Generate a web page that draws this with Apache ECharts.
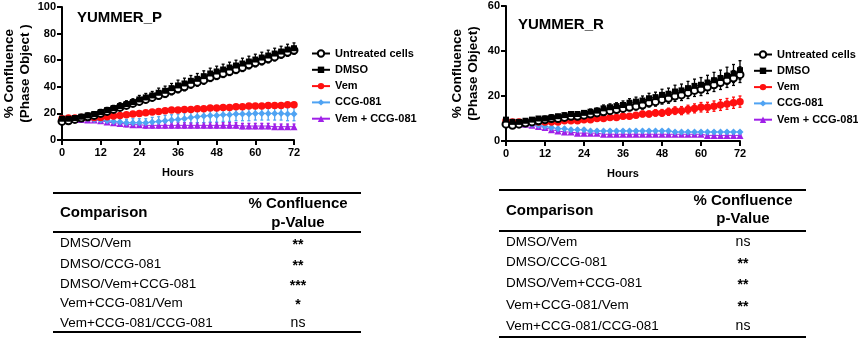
<!DOCTYPE html>
<html>
<head>
<meta charset="utf-8">
<script src="https://cdn.jsdelivr.net/npm/echarts@6/dist/echarts.min.js"></script>
<style>
  html, body { margin: 0; padding: 0; background: #fff; }
  #main { width: 858px; height: 338px; }
</style>
</head>
<body>
<div id="main"></div>
<script>
var chart = echarts.init(document.getElementById('main'));

// time points (hours)
var hours = [0,2,4,6,8,10,12,14,16,18,20,22,24,26,28,30,32,34,36,38,40,42,44,46,48,50,52,54,56,58,60,62,64,66,68,70,72];
var names = ['Untreated cells', 'DMSO', 'Vem', 'CCG-081', 'Vem + CCG-081'];

// YUMMER_P means
var pUntreated = [14,14.5,15.5,16.5,17.5,18.5,20,21.5,23,24.5,26,27.5,29,30.5,32,33.5,35,37,38.5,40,42,43.5,45,47,48.5,50,51.5,53,54.5,56.5,58,59.5,61,62.5,64.5,66,67.5];
var pDmso      = [16,16,16.5,17.5,18.5,19.5,21,22.5,24,25.5,27,28.5,30.5,32,33.5,35.5,37,39,41,42.5,44.5,46,48,50,51.5,53,54.5,56,57.5,59,60.5,62,63.5,65,66.5,68,69];
var pVem       = [16,16.5,16.5,17,17,17,17,17.5,18,18.5,19,19.5,20,20.5,21,21.5,22,22.5,22.5,23,23,23.5,23.5,24,24,24.5,24.5,25,25,25.5,25.5,25.5,26,26,26,26.5,26.5];
var pCcg       = [16,16,16,16,16,15.5,15,14.5,14,13.5,13,13,13,13,13.5,14,14.5,15,15.5,16,17,17.5,18,18.5,18.5,19,19,19.5,19.5,19.5,20,20,20,20,20,19.5,19.5];
var pCombo     = [16,16,15.5,15.5,15,15,14.5,13.5,13,12.5,12,11.5,11.5,11,11,11,11,11,11,11,11,11,11,11,11,11,11,11,10.5,10.5,10.5,10.5,10.5,10,10,10,10];
// YUMMER_P error (SEM)
var pUntreatedErr = [1,1,1,1,1,1.5,1.5,1.5,2,2,2,2,2.5,2.5,2.5,2.5,3,3,3,3,3,3,3,3,3,3,3,3,3,3,3,3,3,3,3,3,3];
var pDmsoErr      = [1,1,1,1,1.5,1.5,2,2,2,2.5,2.5,2.5,3,3,3,3.5,3.5,3.5,4,4,4,4,4,4,4,4,4,4,4,4,4,4,4,4,4,4,4];
var pVemErr       = [1,1,1,1,1,1,1,1,1,1,1,1,1,1,1,1,1,1,1,1,1,1,1,1,1,1,1,1,1,1,1,1,1,1,1,1,1];
var pCcgErr       = [1,1,1,1,1.5,1.5,2,2,2,2.5,2.5,3,3,3,3.5,3.5,4,4,4,4.5,4.5,4.5,5,5,5,5,5,5,5,5,5,5,5,5,5,5,5];
var pComboErr     = [1,1,1,1,1,1,1.5,1.5,1.5,1.5,2,2,2,2,2,2,2,2,2,2,2,2,2,2,2,2,2,2,2,2,2,2,2,2,2,2,2];

// YUMMER_R means
var rUntreated = [7.5,7,7.5,8,8.5,9,9.5,10,10,10.5,11,11,11.5,12,12.5,13,13.5,14,14.5,15,15.5,16,17,17.5,18.5,19,20,20.5,21.5,22.5,23,24,25,26,27,28,29.5];
var rDmso      = [9.5,8.5,8.5,9,9.5,10,10,10.5,11,11.5,12,12,12.5,13,13.5,14.5,15,15.5,16,17,17.5,18,19,19.5,20.5,21,22,22.5,23.5,24.5,25,26,27,28,29,30,31.5];
var rVem       = [9,8.5,8.5,8.5,8.5,8.5,8.5,8.5,8.5,9,9,9,9.5,9.5,10,10,10.5,10.5,11,11,11.5,12,12,12.5,12.5,13,13.5,13.5,14,14.5,15,15,15.5,16,16.5,17,17.5];
var rCcg       = [9,8.5,8,8,7.5,7,6.5,6,5.5,5.5,5,5,5,4.5,4.5,4.5,4.5,4.5,4.5,4.5,4.5,4.5,4.5,4.5,4.5,4.5,4,4,4,4,4,4,4,4,4,4,4];
var rCombo     = [9,8.5,8,7.5,7,6.5,6,5,4.5,4,4,3.5,3.5,3.5,3.5,3,3,3,3,3,3,3,3,3,3,3,3,3,3,3,3,2.5,2.5,2.5,2.5,2.5,2.5];
// YUMMER_R error (SEM)
var rUntreatedErr = [0.5,0.5,0.5,0.5,0.5,0.5,0.7,0.7,0.7,0.8,0.8,0.8,1,1,1,1.2,1.2,1.4,1.5,1.5,1.7,1.8,1.9,2,2.1,2.2,2.4,2.5,2.6,2.7,2.8,2.9,3,3.1,3.2,3.3,3.5];
var rDmsoErr      = [0.5,0.5,0.5,0.5,0.5,0.5,0.8,0.8,0.8,1,1,1,1,1.2,1.2,1.5,1.5,1.5,1.8,1.8,2,2,2.2,2.2,2.5,2.5,2.8,2.8,3,3,3.2,3.2,3.5,3.5,3.8,4,4.2];
var rVemErr       = [0.5,0.5,0.5,0.5,0.5,0.5,0.5,0.5,0.5,0.6,0.6,0.6,0.7,0.7,0.8,0.8,0.9,0.9,1,1,1.1,1.2,1.3,1.4,1.5,1.6,1.7,1.8,1.9,2,2.1,2.2,2.3,2.4,2.4,2.5,2.5];
var rCcgErr       = [0.6,0.6,0.6,0.6,0.6,0.6,0.6,0.6,0.6,0.6,0.6,0.6,0.6,0.6,0.6,0.6,0.6,0.6,0.6,0.6,0.6,0.6,0.6,0.6,0.6,0.6,0.6,0.6,0.6,0.6,0.6,0.6,0.6,0.6,0.6,0.6,0.6];
var rComboErr     = [0.4,0.4,0.4,0.4,0.4,0.4,0.4,0.4,0.4,0.4,0.4,0.4,0.4,0.4,0.4,0.4,0.4,0.4,0.4,0.4,0.4,0.4,0.4,0.4,0.4,0.4,0.4,0.4,0.4,0.4,0.4,0.4,0.4,0.4,0.4,0.4,0.4];

// tables
var comparisons = ['DMSO/Vem', 'DMSO/CCG-081', 'DMSO/Vem+CCG-081', 'Vem+CCG-081/Vem', 'Vem+CCG-081/CCG-081'];
var pValuesP = ['**', '**', '***', '*', 'ns'];
var pValuesR = ['ns', '**', '**', '**', 'ns'];

var FONT = 'Liberation Sans, Arial, Helvetica, sans-serif';
var styles = {
  'Untreated cells': { color: '#000', symbol: 'emptyCircle', size: 7 },
  'DMSO':            { color: '#000', symbol: 'rect', size: 6 },
  'Vem':             { color: '#ff1010', symbol: 'circle', size: 7.5 },
  'CCG-081':         { color: '#4fa3f3', symbol: 'diamond', size: 7 },
  'Vem + CCG-081':   { color: '#a020e8', symbol: 'triangle', size: 7 }
};

function pairs(ys, errs) {
  return hours.map(function (h, i) { return [h, ys[i], errs[i]]; });
}

function errRender(color) {
  return function (params, api) {
    var x = api.value(0), y = api.value(1), e = api.value(2);
    var hi = api.coord([x, y + e]);
    var lo = api.coord([x, y - e]);
    var s = { stroke: color, lineWidth: 1.3 };
    return {
      type: 'group',
      children: [
        { type: 'line', shape: { x1: hi[0], y1: hi[1], x2: lo[0], y2: lo[1] }, style: s },
        { type: 'line', shape: { x1: hi[0] - 1.5, y1: hi[1], x2: hi[0] + 1.5, y2: hi[1] }, style: s },
        { type: 'line', shape: { x1: lo[0] - 1.5, y1: lo[1], x2: lo[0] + 1.5, y2: lo[1] }, style: s }
      ]
    };
  };
}

var series = [];
function addGroup(idx, sets) {
  // draw order: combo, ccg, vem, untreated, dmso (black squares on top)
  [4, 3, 2, 0, 1].forEach(function (k) {
    var nm = names[k], st = styles[nm], d = pairs(sets[k][0], sets[k][1]);
    series.push({
      name: nm + ' err', type: 'custom', xAxisIndex: idx, yAxisIndex: idx,
      renderItem: errRender(st.color), data: d, encode: { x: 0, y: 1 },
      silent: true, z: 2
    });
    series.push({
      name: nm, type: 'line', xAxisIndex: idx, yAxisIndex: idx,
      data: d.map(function (p) { return [p[0], p[1]]; }),
      symbol: st.symbol, symbolSize: st.size, showSymbol: true, showAllSymbol: true,
      lineStyle: { color: st.color, width: 1 },
      itemStyle: { color: st.color, borderWidth: st.symbol === 'emptyCircle' ? 1.1 : 0 },
      z: 3, animation: false
    });
  });
}
addGroup(0, [[pUntreated, pUntreatedErr], [pDmso, pDmsoErr], [pVem, pVemErr], [pCcg, pCcgErr], [pCombo, pComboErr]]);
addGroup(1, [[rUntreated, rUntreatedErr], [rDmso, rDmsoErr], [rVem, rVemErr], [rCcg, rCcgErr], [rCombo, rComboErr]]);

function xAxis(idx) {
  return {
    type: 'value', gridIndex: idx, min: 0, max: 72, interval: 12,
    name: 'Hours', nameLocation: 'middle', nameGap: 27,
    nameTextStyle: { color: '#000', fontWeight: 'bold', fontSize: 11, fontFamily: FONT },
    axisLine: { lineStyle: { color: '#000', width: 2 } },
    axisTick: { length: 5, lineStyle: { color: '#000', width: 2 } },
    axisLabel: { color: '#000', fontWeight: 'bold', fontSize: 11, fontFamily: FONT, margin: 7 },
    splitLine: { show: false }
  };
}
function yAxis(idx, max, name, gap) {
  return {
    type: 'value', gridIndex: idx, min: 0, max: max, interval: 20,
    name: name, nameLocation: 'middle', nameRotate: 90, nameGap: gap,
    nameTextStyle: { color: '#000', fontWeight: 'bold', fontSize: 13.5, fontFamily: FONT, lineHeight: 16 },
    axisLine: { show: true, lineStyle: { color: '#000', width: 2 } },
    axisTick: { show: true, length: 5, lineStyle: { color: '#000', width: 2 } },
    axisLabel: { color: '#000', fontWeight: 'bold', fontSize: 11, fontFamily: FONT, margin: 6 },
    splitLine: { show: false }
  };
}
function legend(left, top) {
  return {
    data: names, orient: 'vertical', left: left, top: top,
    itemWidth: 18, itemHeight: 8, itemGap: 5.3,
    textStyle: { color: '#000', fontWeight: 'bold', fontSize: 11, fontFamily: FONT },
    selectedMode: false
  };
}

// table graphics built from arrays
var graphics = [];
function table(x0, x1, top, headBottom, rowYs, bottom, colX, vals, hdr) {
  var line = function (y, w) {
    graphics.push({ type: 'line', shape: { x1: x0, y1: y, x2: x1, y2: y }, style: { stroke: '#000', lineWidth: w } });
  };
  line(top, 2); line(headBottom, 2); line(bottom, 2);
  graphics.push({ type: 'text', x: x0 + 7, y: hdr[0], style: { text: 'Comparison', font: 'bold 15px ' + FONT, fill: '#000', verticalAlign: 'middle' } });
  graphics.push({ type: 'text', x: colX, y: hdr[1], style: { text: '% Confluence', font: 'bold 15px ' + FONT, fill: '#000', align: 'center', verticalAlign: 'middle' } });
  graphics.push({ type: 'text', x: colX, y: hdr[2], style: { text: 'p-Value', font: 'bold 15px ' + FONT, fill: '#000', align: 'center', verticalAlign: 'middle' } });
  comparisons.forEach(function (c, i) {
    graphics.push({ type: 'text', x: x0 + 7, y: rowYs[i], style: { text: c, font: '13.5px ' + FONT, fill: '#000', verticalAlign: 'middle' } });
    graphics.push({ type: 'text', x: colX, y: rowYs[i] + (vals[i] === 'ns' ? 0 : 2), style: { text: vals[i], font: (vals[i] === 'ns' ? '14px ' : 'bold 14px ') + FONT, fill: '#000', align: 'center', verticalAlign: 'middle' } });
  });
}
table(53, 361, 193, 232, [243, 264, 284, 303, 323], 332, 298, pValuesP, [213, 204, 223]);
table(499, 806, 190, 231, [242, 262, 283, 305, 326], 337, 743, pValuesR, [211, 201, 219]);

var option = {
  animation: false,
  backgroundColor: '#fff',
  title: [
    { text: 'YUMMER_P', left: 72, top: 5, textStyle: { color: '#000', fontWeight: 'bold', fontSize: 15, fontFamily: FONT } },
    { text: 'YUMMER_R', left: 513, top: 12, textStyle: { color: '#000', fontWeight: 'bold', fontSize: 15, fontFamily: FONT } }
  ],
  grid: [
    { left: 62, top: 7, width: 232, height: 133 },
    { left: 506, top: 6, width: 234, height: 135 }
  ],
  xAxis: [xAxis(0), xAxis(1)],
  yAxis: [yAxis(0, 100, '% Confluence\n(Phase Object )', 28), yAxis(1, 60, '% Confluence\n(Phase Object)', 25)],
  legend: [legend(306, 43), legend(748, 44)],
  series: series,
  graphic: graphics
};
chart.setOption(option);
</script>
</body>
</html>
